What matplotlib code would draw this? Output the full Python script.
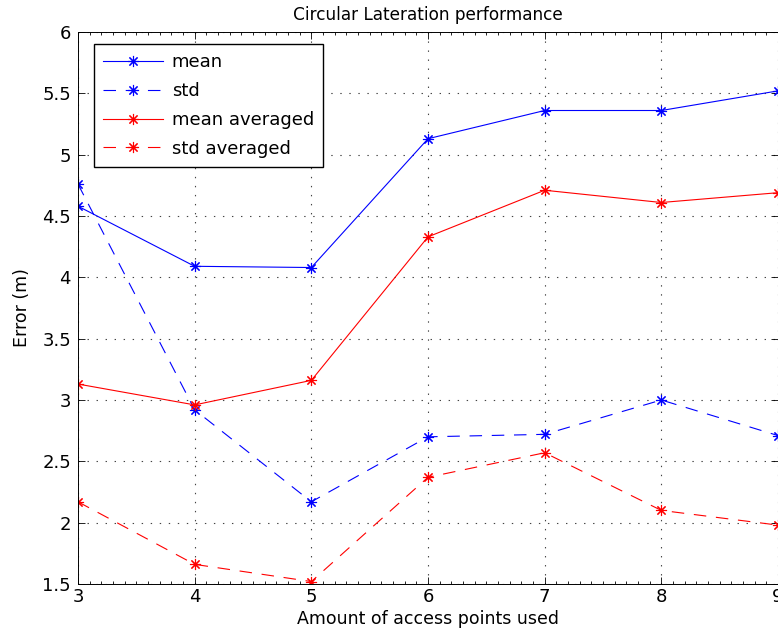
import matplotlib
matplotlib.use('Agg')
import matplotlib.pyplot as plt
from matplotlib.ticker import MultipleLocator

plt.rcParams['font.family'] = ['DejaVu Sans']
plt.rcParams['lines.scale_dashes'] = False

# Data
n_aps = [3, 4, 5, 6, 7, 8, 9]
mean = [4.58, 4.09, 4.08, 5.13, 5.36, 5.36, 5.52]
std = [4.76, 2.92, 2.17, 2.70, 2.72, 3.00, 2.71]
mean_avg = [3.13, 2.96, 3.16, 4.33, 4.71, 4.61, 4.69]
std_avg = [2.17, 1.66, 1.52, 2.37, 2.57, 2.10, 1.98]
y_ticks = [1.5, 2, 2.5, 3, 3.5, 4, 4.5, 5, 5.5, 6]
y_labels = ['1.5', '2', '2.5', '3', '3.5', '4', '4.5', '5', '5.5', '6']

fig = plt.figure(figsize=(7.78, 6.4), dpi=100)
ax = fig.add_axes([78 / 778, 1 - 584 / 640, 700 / 778, 552 / 640])

# MATLAB style asterisk marker
ast = (8, 2, 0)
mk = dict(marker=ast, markersize=8, markeredgewidth=0.8, linewidth=0.8)
ax.plot(n_aps, mean, '-', color='blue', label='mean', **mk)
ax.plot(n_aps, std, color='blue', label='std', linestyle=(0, (9, 7)), **mk)
ax.plot(n_aps, mean_avg, '-', color='red', label='mean averaged', **mk)
ax.plot(n_aps, std_avg, color='red', label='std averaged', linestyle=(0, (9, 7)), **mk)

ax.set_xlim(3, 9)
ax.set_ylim(1.5, 6)
ax.xaxis.set_major_locator(MultipleLocator(1))
ax.xaxis.set_minor_locator(MultipleLocator(0.1))
ax.set_yticks(y_ticks)
ax.set_yticklabels(y_labels)
ax.tick_params(which='both', direction='in', top=True, right=True, labelsize=13,
               width=0.6)
ax.tick_params(which='major', length=5, pad=3)
ax.tick_params(which='minor', length=2.5)
ax.tick_params(axis='y', pad=5)
ax.grid(True, which='major', linestyle=(0, (1, 5.5)), color='#444444', linewidth=0.8)
for s in ax.spines.values():
    s.set_linewidth(0.7)

ax.set_title('Circular Lateration performance', fontsize=12.2, pad=9)
ax.set_xlabel('Amount of access points used', fontsize=12.5, labelpad=3)
ax.set_ylabel('Error (m)', fontsize=12.5, labelpad=8)

leg = ax.legend(loc='upper left', fontsize=13, fancybox=False, framealpha=1,
                edgecolor='black', handlelength=3.3, handletextpad=0.5,
                labelspacing=0.6, borderpad=0.5, borderaxespad=0,
                bbox_to_anchor=(0.023, 0.978))
leg.get_frame().set_linewidth(1.0)

fig.savefig('out.png', dpi=100)
